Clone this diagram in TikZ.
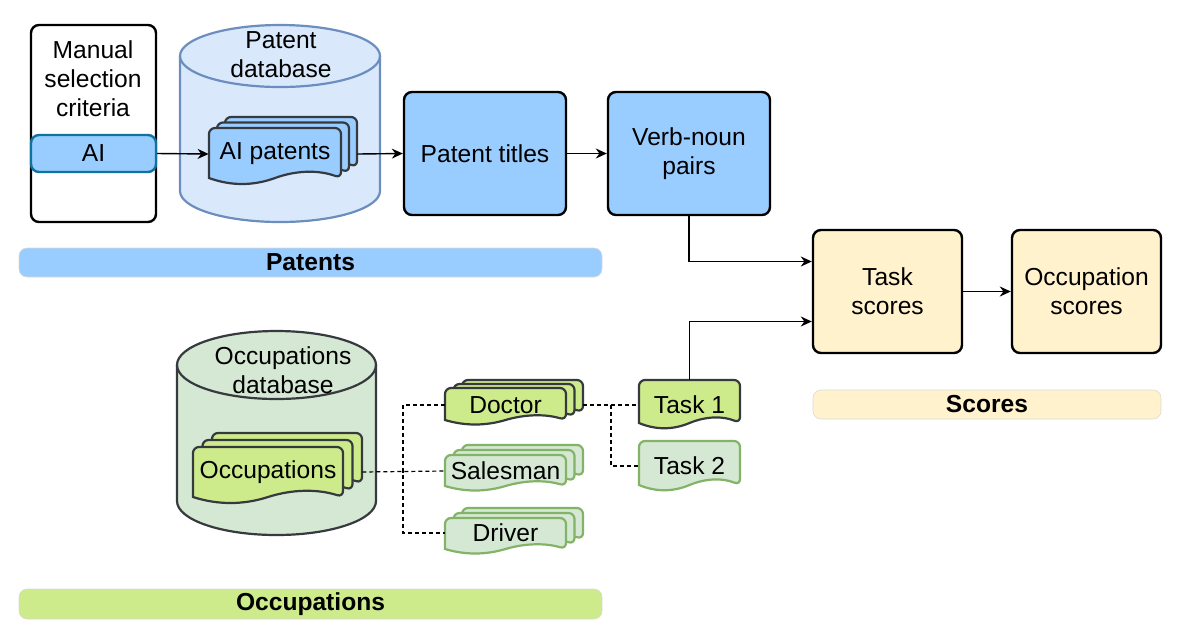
\documentclass[tikz,border=0pt]{standalone}
\usepackage{fontspec}
\setmainfont{Liberation Sans}
\usetikzlibrary{arrows.meta}
\definecolor{boxblue}{HTML}{99CCFF}
\definecolor{dbblue}{HTML}{DAE8FC}
\definecolor{dbline}{HTML}{6C8EBF}
\definecolor{ailine}{HTML}{10739E}
\definecolor{scoreyel}{HTML}{FFF2CC}
\definecolor{occlime}{HTML}{CDEB8B}
\definecolor{occpale}{HTML}{D5E8D4}
\definecolor{occline}{HTML}{82B366}
\definecolor{darkline}{HTML}{36393D}
\tikzset{
  stepbox/.style={draw=black, line width=1.2pt, rounded corners=4pt, fill=#1, align=center, inner sep=0pt},
  band/.style={fill=#1, draw=black!15, line width=0.3pt, rounded corners=4pt, inner sep=0pt, font=\fontsize{12.3}{14.5}\selectfont\bfseries},
  arr/.style={-{Stealth[length=5.5pt,width=5pt]}, line width=0.7pt},
  link/.style={dash pattern=on 2pt off 1.5pt, line width=0.6pt},
  txt/.style={inner sep=0pt, align=center}
}
\newcommand\docshape[6]{%
  \pgfmathsetmacro\docdx{(#3-#1)/6}%
  \pgfmathsetmacro\docmid{(#1+#3)/2}%
  \path[#6] (#1,#4) [rounded corners=3pt] -- (#1,#2) -- (#3,#2) -- (#3,#4) [sharp corners]
    .. controls +(-\docdx,-#5) and +(\docdx,-#5) .. (\docmid,#4)
    .. controls +(-\docdx,#5) and +(\docdx,#5) .. (#1,#4) -- cycle;}
\newcommand\docstack[8]{%
  \foreach \k in {2,1} {%
    \pgfmathsetmacro\sa{#1+\k*#6}\pgfmathsetmacro\sb{#2-\k*#7}%
    \pgfmathsetmacro\sc{#3+\k*#6}\pgfmathsetmacro\sd{#4-\k*#7}%
    \docshape{\sa}{\sb}{\sc}{\sd}{#5}{#8}}%
  \docshape{#1}{#2}{#3}{#4}{#5}{#8}}
\newcommand\dbshape[6]{%
  \pgfmathsetmacro\dbrx{(#3-#1)/2}%
  \path[#6] (#1,#2+#5) -- (#1,#4-#5) arc[start angle=180, end angle=0, x radius=\dbrx, y radius=#5]
    -- (#3,#2+#5) arc[start angle=0, end angle=-180, x radius=\dbrx, y radius=#5] -- cycle;
  \path[#6, fill=none] (#1,#2+#5) arc[start angle=180, end angle=0, x radius=\dbrx, y radius=#5];}

\begin{document}
\begin{tikzpicture}[x=0.5pt, y=-0.5pt, font=\fontsize{12.3}{14.5}\selectfont]
    \useasboundingbox (0,0) rectangle (1177,628);
    \node[stepbox=white, minimum width=62.5pt, minimum height=98.5pt] (manual) at (93.5,123.5) {};
    \node[txt] (manualtxt) at (93,79) {Manual\\selection\\criteria};
    \node[stepbox=boxblue, draw=ailine, minimum width=62.5pt, minimum height=18.5pt] (ai) at (93.5,153.5) {AI};
    \dbshape{180}{25}{380}{222}{31}{fill=dbblue, draw=dbline, line width=1.1pt}
    \node[txt] (patdb) at (281,55) {Patent\\database};
    \docstack{209}{128}{341}{178}{8}{8}{5.5}{fill=boxblue, draw=darkline, line width=1.1pt}
    \node[txt, minimum width=66pt, minimum height=26pt] (aipat) at (275,154) {AI patents};
    \node[stepbox=boxblue, minimum width=81pt, minimum height=61.5pt] (titles) at (485,153.5) {Patent titles};
    \node[stepbox=boxblue, minimum width=81pt, minimum height=61.5pt] (verb) at (689,153.5) {Verb-noun\\pairs};
    \node[band=boxblue, minimum width=291.5pt, minimum height=14.5pt] (patband) at (310.5,262.5) {Patents};
    \node[stepbox=scoreyel, minimum width=74.5pt, minimum height=61.5pt] (tasks) at (887.5,291.5) {Task\\scores};
    \node[stepbox=scoreyel, minimum width=74.5pt, minimum height=61.5pt] (occsc) at (1086.5,291.5) {Occupation\\scores};
    \node[band=scoreyel, minimum width=174pt, minimum height=14.5pt] (scoreband) at (987,404.5) {Scores};
    \dbshape{177}{331}{376}{535}{34}{fill=occpale, draw=darkline, line width=1.1pt}
    \node[txt] (occdb) at (283,370) {Occupations\\database};
    \docstack{193}{447}{343}{497}{8}{9.5}{7}{fill=occlime, draw=darkline, line width=1.1pt}
    \node[txt, minimum width=75pt, minimum height=25pt] (occs) at (268,472) {Occupations};
    \docstack{445}{388}{566}{420}{6}{8.5}{4}{fill=occlime, draw=darkline, line width=1.1pt}
    \node[txt, minimum width=60.5pt, minimum height=17pt] (doctor) at (505.5,405) {Doctor};
    \docstack{445}{455}{566}{486}{6}{8.5}{5}{fill=occpale, draw=occline, line width=1.1pt}
    \node[txt, minimum width=60.5pt, minimum height=16pt] (sales) at (505.5,471) {Salesman};
    \docstack{445}{518}{566}{549}{6}{8.5}{5}{fill=occpale, draw=occline, line width=1.1pt}
    \node[txt, minimum width=60.5pt, minimum height=15pt] (driver) at (505.5,533) {Driver};
    \docshape{639}{380}{740}{423}{7}{fill=occlime, draw=darkline, line width=1.1pt}
    \node[txt, minimum width=50.5pt, minimum height=25pt] (task1) at (689.5,405) {Task 1};
    \docshape{639}{441}{740}{485}{7}{fill=occpale, draw=occline, line width=1.1pt}
    \node[txt, minimum width=50.5pt, minimum height=25pt] (task2) at (689.5,466) {Task 2};
    \node[band=occlime, minimum width=291.5pt, minimum height=15pt] (occband) at (310.5,604) {Occupations};
    \coordinate (occfork) at (403,472);
    \coordinate (taskfork) at (611,405);
    \draw[arr] (ai.east) -- (aipat.west);
    \draw[arr] ([xshift=8pt]aipat.east) -- (titles.west);
    \draw[arr] (titles) -- (verb);
    \draw[arr] (verb.south) |- ([yshift=15pt]tasks.west);
    \draw[arr] (task1.north) |- ([yshift=-15pt]tasks.west);
    \draw[arr] (tasks) -- (occsc);
    \draw[link] ([xshift=9.5pt]occs.east) -- (sales.west);
    \draw[link] (doctor.west) -| (occfork) |- (driver.west);
    \draw[link] ([xshift=8.5pt]doctor.east) -- (task1.west);
    \draw[link] (taskfork) |- (task2.west);
\end{tikzpicture}
\end{document}
